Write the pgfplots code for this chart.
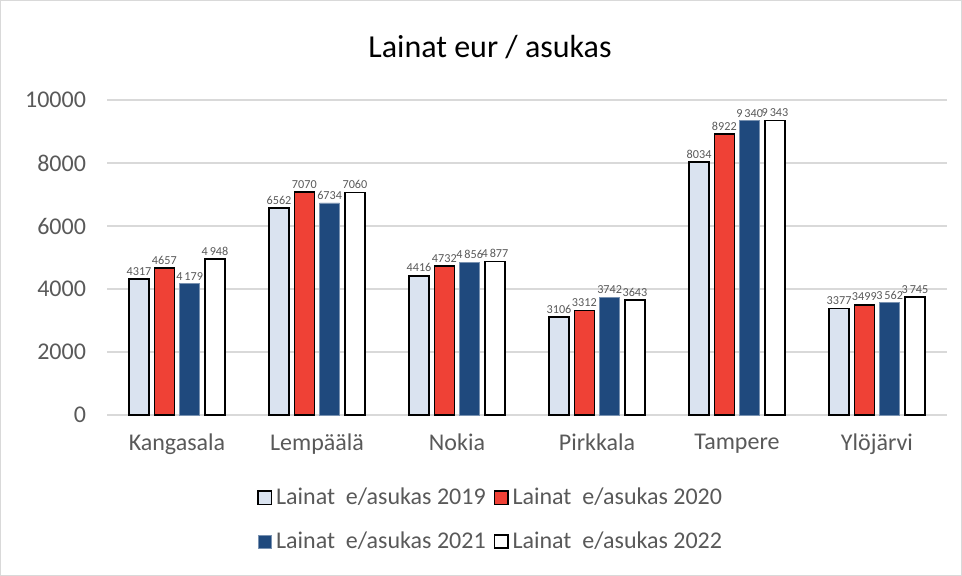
\documentclass[border=0pt]{standalone}
\usepackage{fontspec}
\setmainfont{Carlito}
\usepackage{pgfplots}
\pgfplotsset{compat=1.18}
\definecolor{txt}{HTML}{595959}
\definecolor{gridc}{HTML}{D9D9D9}
\definecolor{c19}{HTML}{DAE3F0}
\definecolor{c20}{HTML}{EF4136}
\definecolor{c21}{HTML}{1F497D}
\begin{document}
\begin{tikzpicture}
\path[use as bounding box] (0,0) rectangle (481pt,288pt);
\draw[gridc, line width=0.6pt] (0.3pt,0.3pt) rectangle (480.7pt,287.7pt);
\node[font=\fontsize{16}{19}\selectfont, text=black] at (245pt,264.5pt) {Lainat eur / asukas};
\begin{axis}[
  at={(53.5pt,80.5pt)}, anchor=south west,
  scale only axis, width=420pt, height=157.5pt,
  xmin=-0.5, xmax=5.5, ymin=0, ymax=10000,
  ybar=2.65pt, bar width=10pt,
  xtick={0,1,2,3,4,5},
  xticklabels={Kangasala,Lempäälä,Nokia,Pirkkala,Tampere,Ylöjärvi},
  ytick={0,2000,4000,6000,8000,10000},
  scaled y ticks=false,
  /pgf/number format/assume math mode=true,
  /pgf/number format/1000 sep={},
  major tick length=0pt,
  axis x line*=bottom, axis y line*=left,
  x axis line style={gridc, line width=0.75pt, -},
  y axis line style={draw=none},
  ymajorgrids, grid style={gridc, line width=0.75pt},
  ticklabel style={font=\fontsize{12}{14}\selectfont, text=txt},
  yticklabel style={xshift=-7pt},
  xticklabel style={yshift=-6pt},
  point meta=explicit symbolic,
  nodes near coords,
  every node near coord/.append style={font=\fontsize{6.1}{7}\selectfont, text=txt, inner sep=1.5pt},
  legend columns=2,
  legend style={draw=none, fill=none, at={(0.458,-0.205)}, anchor=north,
    font=\fontsize{12}{14}\selectfont, text=txt, row sep=8pt,
    /tikz/every even column/.append style={column sep=2pt}},
  legend image code/.code={\draw[#1] (0pt,-3.3pt) rectangle (6.6pt,3.3pt);},
  clip=false,
]
\addplot[fill=c19, draw=black, line width=0.8pt] coordinates {
 (0,4317) [4317] (1,6562) [6562] (2,4416) [4416] (3,3106) [3106] (4,8034) [8034] (5,3377) [3377]};
\addplot[fill=c20, draw=black, line width=0.8pt] coordinates {
 (0,4657) [4657] (1,7070) [7070] (2,4732) [4732] (3,3312) [3312] (4,8922) [8922] (5,3499) [3499]};
\addplot[fill=c21, draw=c21!60, line width=0.3pt] coordinates {
 (0,4179) [4\,179] (1,6734) [6734] (2,4856) [4\,856] (3,3742) [3742] (4,9340) [9\,340] (5,3562) [3\,562]};
\addplot[fill=white, draw=black, line width=0.8pt] coordinates {
 (0,4948) [4\,948] (1,7060) [7060] (2,4877) [4\,877] (3,3643) [3643] (4,9343) [9\,343] (5,3745) [3\,745]};
\legend{Lainat\ \ e/asukas 2019, Lainat\ \ e/asukas 2020, Lainat\ \ e/asukas 2021, Lainat\ \ e/asukas 2022}
\end{axis}
\end{tikzpicture}
\end{document}
